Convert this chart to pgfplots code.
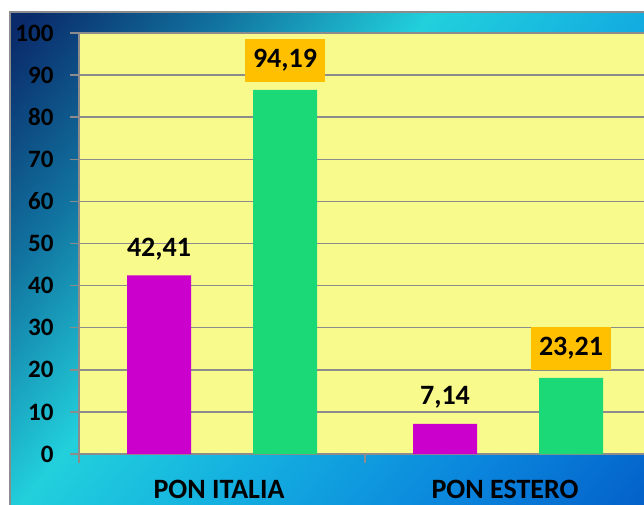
\documentclass[border=0pt]{standalone}
\usepackage{fontspec}
\setmainfont{Carlito}
\usepackage{pgfplots}
\usepackage{pgfplotstable}
\pgfplotsset{compat=1.18}
\definecolor{plotbg}{HTML}{F9FA8C}
\definecolor{barM}{HTML}{CC00CC}
\definecolor{barG}{HTML}{1CD977}
\definecolor{lblbox}{HTML}{FFC000}
\definecolor{gridc}{HTML}{8C8C8C}
\definecolor{c1}{HTML}{0A2A6A}
\definecolor{c2}{HTML}{11729F}
\definecolor{c3}{HTML}{22D0DC}
\definecolor{c4}{HTML}{14B0E0}
\definecolor{c5}{HTML}{0A84DC}
\definecolor{c6}{HTML}{0050C0}
\pgfdeclarehorizontalshading{bgshade}{100bp}{color(0bp)=(c1); color(16bp)=(c1); color(28bp)=(c2); color(41bp)=(c3); color(53bp)=(c4); color(68bp)=(c5); color(85.4bp)=(c6); color(100bp)=(c6)}
\newcommand\tickfont{\fontsize{25}{25}\selectfont\bfseries}
\newcommand\catfont{\fontsize{28}{28}\selectfont\bfseries}
\newcommand\lblfont{\fontsize{28}{28}\selectfont\bfseries}

\pgfplotstableread{
x y label
0 42.41 {42,41}
1 7.14 {7,14}
}\magdata
\pgfplotstableread{
x y label
0 86.5 {94,19}
1 18.1 {23,21}
}\grndata

\begin{document}
\begin{tikzpicture}[x=1pt,y=1pt]
\useasboundingbox (0,0) rectangle (644,504);
\clip (0,0) rectangle (644,504);
\shade[shading=bgshade, shading angle=-40] (10,-40) rectangle (700,492);
\draw[gridc, line width=2pt] (10,-40) rectangle (700,492);
\begin{axis}[
  at={(79pt,50pt)}, anchor=south west,
  scale only axis, width=572pt, height=421pt,
  xmin=-0.5, xmax=1.5, ymin=0, ymax=100,
  axis background/.style={fill=plotbg},
  axis line style={gridc, line width=1.5pt},
  axis x line*=bottom, axis y line*=left,
  ytick={0,10,...,100},
  ymajorgrids, grid style={gridc, line width=1.5pt},
  tick align=outside, major tick length=9pt,
  tick style={gridc, line width=1.5pt},
  yticklabel style={font=\tickfont, /pgf/number format/assume math mode=true, text=black, xshift=-13pt},
  xtick={-0.5,0.5,1.5}, xticklabels={},
  extra x ticks={0,1}, extra x tick labels={PON ITALIA, PON ESTERO},
  extra x tick style={major tick length=0pt, tick style={draw=none}},
  xticklabel style={font=\catfont, anchor=base, inner sep=0pt, yshift=-44pt, xshift=-3pt, text=black},
  point meta=explicit symbolic,
]
\addplot[ybar, bar width=64pt, bar shift=-63pt, fill=barM, draw=none,
  nodes near coords, every node near coord/.style={font=\lblfont, anchor=base, xshift=-63pt, yshift=19pt, text=black}]
  table[x=x, y=y, meta=label]{\magdata};
\addplot[ybar, bar width=64pt, bar shift=63pt, fill=barG, draw=none,
  nodes near coords, every node near coord/.style={font=\lblfont, anchor=south, xshift=63pt, yshift=8pt, fill=lblbox, minimum width=80pt, minimum height=43pt, inner sep=0pt, text=black}]
  table[x=x, y=y, meta=label]{\grndata};
\end{axis}
\end{tikzpicture}
\end{document}
